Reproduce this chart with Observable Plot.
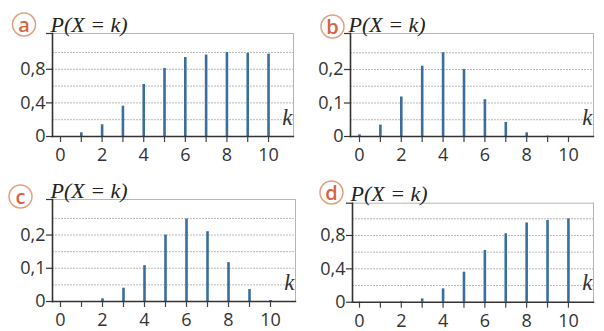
<!DOCTYPE html>
<html>
<head>
<meta charset="utf-8">
<script src="https://cdn.jsdelivr.net/npm/d3@7"></script>
<script src="https://cdn.jsdelivr.net/npm/@observablehq/plot@0.6"></script>
<style>
  html, body { margin: 0; padding: 0; background: #fff; }
  #root { position: relative; width: 604px; height: 331px; overflow: hidden; }
  .panel { position: absolute; }
  svg { overflow: visible; }
</style>
</head>
<body>
<div id="root"></div>
<script>
// ---- data ----
const ks = [0, 1, 2, 3, 4, 5, 6, 7, 8, 9, 10];
const xTickLabels = [0, 2, 4, 6, 8, 10];

const pA = [0, 0.044, 0.14, 0.36, 0.62, 0.81, 0.94, 0.97, 1.0, 0.99, 0.98];
const pB = [0.005, 0.034, 0.118, 0.21, 0.25, 0.20, 0.11, 0.042, 0.011, 0.001, 0];
const pC = [0, 0, 0.008, 0.04, 0.108, 0.20, 0.248, 0.21, 0.117, 0.036, 0.003];
const pD = [0, 0, 0.005, 0.04, 0.16, 0.36, 0.62, 0.82, 0.95, 0.98, 1.0];

const yTicksBig = [0, 0.4, 0.8];
const yGridBig = [0.2, 0.4, 0.6, 0.8, 1.0];
const yTicksSmall = [0, 0.1, 0.2];
const yGridSmall = [0.05, 0.1, 0.15, 0.2, 0.25];

const panelLetters = ["a", "b", "c", "d"];
const titleText = "P(X = k)";
const axisLetter = "k";

// ---- layout ----
const panels = [
  {letter: panelLetters[0], values: pA, yt: yTicksBig, yg: yGridBig, left: 0, top: 0, w: 300, h: 165,
   mL: 52, mR: 7, mT: 33, mB: 29, xd: [-0.385, 11.2], yd: [0, 1.226], cx: 23.5, cy: 24},
  {letter: panelLetters[1], values: pB, yt: yTicksSmall, yg: yGridSmall, left: 300, top: 0, w: 304, h: 165,
   mL: 50, mR: 11, mT: 33, mB: 29, xd: [-0.43, 11.196], yd: [0, 0.3075], cx: 32, cy: 26},
  {letter: panelLetters[2], values: pC, yt: yTicksSmall, yg: yGridSmall, left: 0, top: 165, w: 300, h: 166,
   mL: 52, mR: 5, mT: 34, mB: 30, xd: [-0.381, 11.19], yd: [0, 0.307], cx: 20, cy: 31},
  {letter: panelLetters[3], values: pD, yt: yTicksBig, yg: yGridBig, left: 300, top: 165, w: 304, h: 166,
   mL: 52, mR: 11, mT: 37.7, mB: 29.3, xd: [-0.335, 11.2], yd: [0, 1.187], cx: 31, cy: 27}
];

const fmt = d => String(d).replace(".", ",");
const root = document.getElementById("root");

for (const p of panels) {
  const data = ks.map((k, i) => ({k, p: p.values[i]}));
  const ymax = p.yd[1];
  const chart = Plot.plot({
    width: p.w, height: p.h,
    marginLeft: p.mL, marginRight: p.mR, marginTop: p.mT, marginBottom: p.mB,
    x: {domain: p.xd, label: null},
    y: {domain: p.yd, label: null},
    style: {background: "transparent", fontFamily: "Open Sans", overflow: "visible"},
    marks: [
      Plot.gridY(p.yg, {stroke: "#8a8a8a", strokeOpacity: 0.75, strokeWidth: 0.8, strokeDasharray: "2,1"}),
      Plot.frame({anchor: "top", stroke: "#b5b5b5", strokeWidth: 1}),
      Plot.frame({anchor: "right", stroke: "#b5b5b5", strokeWidth: 1}),
      Plot.ruleX(data, {x: "k", y1: 0, y2: "p", stroke: "#3a6e9e", strokeWidth: 2.6}),
      Plot.axisX({ticks: ks, tickSize: 6, tickFormat: () => "", label: null, stroke: "#444", strokeWidth: 1.2}),
      Plot.axisX({ticks: xTickLabels, tickSize: 0, tickPadding: 12, tickFormat: d => String(d), label: null,
                  fontSize: 18, fill: "#333", fontFamily: "Open Sans"}),
      Plot.axisY({ticks: [...p.yt, ymax], tickSize: 6, tickPadding: 1, label: null,
                  tickFormat: d => (d === ymax ? "" : fmt(d)),
                  fontSize: 18, fill: "#333", stroke: "#333", strokeWidth: 1.2, fontFamily: "Open Sans"}),
      Plot.frame({anchor: "left", stroke: "#333", strokeWidth: 1.6}),
      Plot.frame({anchor: "bottom", stroke: "#333", strokeWidth: 1.4}),
      Plot.text([axisLetter], {frameAnchor: "bottom-right", text: d => d, dx: -1, dy: -12,
                  textAnchor: "end", lineAnchor: "bottom", fontSize: 23, fontStyle: "italic",
                  fontFamily: "Liberation Serif", fill: "#333"}),
      Plot.text([titleText], {frameAnchor: "top-left", text: d => d, dx: -2, dy: -2,
                  textAnchor: "start", lineAnchor: "bottom", fontSize: 22, fontStyle: "italic",
                  fontFamily: "Liberation Serif", fill: "#222"}),
      Plot.dot([p.letter], {frameAnchor: "top-left", dx: p.cx - p.mL, dy: p.cy - p.mT, r: 11.5,
                  stroke: "#e2a07e", strokeWidth: 1.5, fill: "white"}),
      Plot.text([p.letter], {frameAnchor: "top-left", text: d => d, dx: p.cx - p.mL, dy: p.cy - p.mT + 1,
                  textAnchor: "middle", lineAnchor: "middle", fontSize: 20, fontWeight: 600,
                  fontFamily: "Open Sans", fill: "#d9633d"})
    ]
  });
  const div = document.createElement("div");
  div.className = "panel";
  div.style.left = p.left + "px";
  div.style.top = p.top + "px";
  div.appendChild(chart);
  root.appendChild(div);
}
</script>
</body>
</html>
